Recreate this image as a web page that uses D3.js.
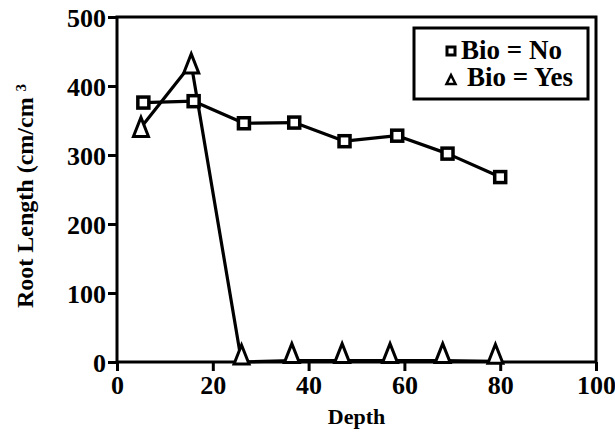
<!DOCTYPE html>
<html>
<head>
<meta charset="utf-8">
<script src="https://cdn.jsdelivr.net/npm/d3@7"></script>
</head>
<body style="margin:0">
<script>
// data
const depthNo = [5.5, 16, 26.5, 37, 47.5, 58.5, 69, 80];
const rootNo = [376, 378, 346, 347, 320, 328, 302, 268];
const depthYes = [5, 15.5, 26, 36.5, 47, 57, 68, 79];
const rootYes = [340, 432, 0, 2, 2, 2, 2, 1];
const xTicks = [0, 20, 40, 60, 80, 100];
const yTicks = [0, 100, 200, 300, 400, 500];
const legendLabels = ["Bio = No", "Bio = Yes"];

// set the dimensions and margins of the graph
const W = 615, H = 433;
const margin = { top: 17, right: 19, bottom: 71, left: 117 };
const width = W - margin.left - margin.right;
const height = H - margin.top - margin.bottom;

const svg = d3.select("body")
    .append("svg")
    .attr("width", W)
    .attr("height", H);

const g = svg.append("g")
    .attr("transform", `translate(${margin.left}, ${margin.top})`);

const x = d3.scaleLinear().domain([0, 100]).range([0, width]);
const y = d3.scaleLinear().domain([0, 500]).range([height, 0]);

// frame
g.append("rect")
    .attr("width", width)
    .attr("height", height)
    .attr("fill", "none")
    .attr("stroke", "#000")
    .attr("stroke-width", 3);

// axes
const xAxis = g.append("g")
    .attr("transform", `translate(0, ${height})`)
    .call(d3.axisBottom(x).tickValues(xTicks).tickSize(9).tickPadding(5).tickFormat(d3.format("d")));
const yAxis = g.append("g")
    .call(d3.axisLeft(y).tickValues(yTicks).tickSize(9).tickPadding(2).tickFormat(d3.format("d")));

[xAxis, yAxis].forEach(a => {
    a.attr("font-family", null).attr("font-size", null);
    a.select(".domain").remove();
    a.selectAll(".tick line").attr("stroke", "#000").attr("stroke-width", 3);
    a.selectAll(".tick text")
        .style("font-family", d => `"Liberation Serif"`)
        .style("font-weight", "bold")
        .style("font-size", "26px")
        .attr("fill", "#000");
});
yAxis.selectAll(".tick text").attr("dy", "0.36em");

// axis titles
svg.append("text")
    .attr("x", margin.left + x(50))
    .attr("y", 424)
    .attr("text-anchor", "middle")
    .style("font-family", `"Liberation Serif"`)
    .style("font-weight", "bold")
    .style("font-size", "22px")
    .text("Depth");

const yTitle = svg.append("text")
    .attr("transform", "translate(33, 308) rotate(-90)")
    .style("font-family", `"Liberation Serif"`)
    .style("font-weight", "bold")
    .style("font-size", "24px");
yTitle.append("tspan").text("Root Length (cm/cm ");
yTitle.append("tspan").attr("dy", "-0.45em").style("font-size", "15px").text("3");

// lines
const noData = depthNo.map((d, i) => ({ x: d, y: rootNo[i] }));
const yesData = depthYes.map((d, i) => ({ x: d, y: rootYes[i] }));
const line = d3.line().x(d => x(d.x)).y(d => y(d.y));

g.append("path").datum(yesData)
    .attr("d", line)
    .attr("fill", "none").attr("stroke", "#000").attr("stroke-width", 3.2)
    .attr("stroke-linejoin", "round");
g.append("path").datum(noData)
    .attr("d", line)
    .attr("fill", "none").attr("stroke", "#000").attr("stroke-width", 3.2)
    .attr("stroke-linejoin", "round");

// markers
const sq = 11;
g.selectAll(".sq").data(noData).join("rect")
    .attr("class", "sq")
    .attr("x", d => x(d.x) - sq / 2)
    .attr("y", d => y(d.y) - sq / 2)
    .attr("width", sq).attr("height", sq)
    .attr("fill", "#fff").attr("stroke", "#000").attr("stroke-width", 3.5);

// triangle sits with its base just below the point
const tri = "M0,-17L7.5,2L-7.5,2Z";
g.selectAll(".tri").data(yesData).join("path")
    .attr("class", "tri")
    .attr("transform", (d, i) => `translate(${x(d.x)}, ${y(d.y) + (i < 2 ? 7 : 0)})`)
    .attr("d", tri)
    .attr("fill", "#fff").attr("stroke", "#000").attr("stroke-width", 3)
    .attr("stroke-linejoin", "miter");

// legend
const lg = svg.append("g");
lg.append("rect")
    .attr("x", 414).attr("y", 28).attr("width", 174).attr("height", 71)
    .attr("fill", "#fff").attr("stroke", "#000").attr("stroke-width", 3);
lg.append("rect")
    .attr("x", 447).attr("y", 47).attr("width", 8).attr("height", 8)
    .attr("fill", "#fff").attr("stroke", "#000").attr("stroke-width", 3);
lg.append("path")
    .attr("transform", "translate(451, 84)")
    .attr("d", "M0,-9L4.5,0L-4.5,0Z")
    .attr("fill", "#fff").attr("stroke", "#000").attr("stroke-width", 2.5);
lg.selectAll(".lt").data(legendLabels).join("text")
    .attr("class", "lt")
    .attr("x", (d, i) => i === 0 ? 461 : 467)
    .attr("y", (d, i) => i === 0 ? 59 : 86)
    .style("font-family", `"Liberation Serif"`)
    .style("font-weight", "bold")
    .style("font-size", "27px")
    .text(d => d);
</script>
</body>
</html>
